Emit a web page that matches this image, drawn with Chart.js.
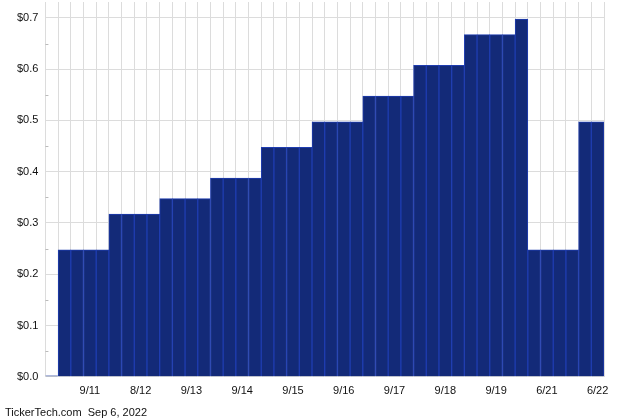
<!DOCTYPE html>
<html>
<head>
<meta charset="utf-8">
<script src="https://cdn.jsdelivr.net/npm/chart.js@4"></script>
<style>
  html, body { margin: 0; padding: 0; background: #fff; }
  #wrap { width: 640px; height: 420px; position: relative; }
</style>
</head>
<body>
<div id="wrap"><canvas id="divChart"></canvas></div>
<script>
// dividend per payment, oldest first
const dividends = [
  0.002,
  0.2475, 0.2475, 0.2475, 0.2475,
  0.3175, 0.3175, 0.3175, 0.3175,
  0.3475, 0.3475, 0.3475, 0.3475,
  0.3875, 0.3875, 0.3875, 0.3875,
  0.4475, 0.4475, 0.4475, 0.4475,
  0.4975, 0.4975, 0.4975, 0.4975,
  0.5475, 0.5475, 0.5475, 0.5475,
  0.6075, 0.6075, 0.6075, 0.6075,
  0.6675, 0.6675, 0.6675, 0.6675,
  0.6975,
  0.2475, 0.2475, 0.2475, 0.2475,
  0.4975, 0.4975,
];
const payments = dividends.map((_, i) => String(i + 1));
const dateLabels = ["9/11", "8/12", "9/13", "9/14", "9/15", "9/16", "9/17", "9/18", "9/19", "6/21", "6/22"];
const yTicks = [0, 0.1, 0.2, 0.3, 0.4, 0.5, 0.6, 0.7];
const footerText = "TickerTech.com  Sep 6, 2022";

const COLORS = {
  bar:    "#132a78",
  edge:   "#1f3db0",
  grid:   "#dcdcdc",
  text:   "#111111",
};
const FONT = "'Liberation Sans', Arial, sans-serif";

// grid columns behind the bars (one fewer than bars, as in the source image)
const GRID_COLS = dividends.length - 1;
const LABEL_FIRST = 3;
const LABEL_EVERY = 4;

const extrasPlugin = {
  id: "extras",
  afterDraw(chart) {
    const c = chart.ctx;
    const y = chart.scales.y;
    const left = chart.chartArea.left;
    // minor ticks halfway between y labels
    c.save();
    c.strokeStyle = "#bbbbbb";
    c.lineWidth = 1;
    for (let i = 0; i < yTicks.length - 1; i++) {
      const py = Math.round(y.getPixelForValue((yTicks[i] + yTicks[i + 1]) / 2)) + 0.5;
      c.beginPath();
      c.moveTo(left, py);
      c.lineTo(left + 3, py);
      c.stroke();
    }
    c.fillStyle = COLORS.text;
    c.font = "11px " + FONT;
    c.textBaseline = "middle";
    c.textAlign = "left";
    c.fillText(footerText, 5, 413);
    c.restore();
  },
};

new Chart(document.getElementById("divChart"), {
  type: "bar",
  data: {
    labels: payments,
    datasets: [{
      data: dividends,
      backgroundColor: COLORS.bar,
      borderColor: COLORS.edge,
      borderWidth: 1,
      borderSkipped: "bottom",
      categoryPercentage: 1.0,
      barPercentage: 1.0,
    }],
  },
  options: {
    responsive: true,
    maintainAspectRatio: false,
    animation: false,
    layout: { padding: { left: 17, right: 36, top: 2, bottom: 14 } },
    plugins: {
      legend: { display: false },
      tooltip: { enabled: false },
    },
    scales: {
      x: {
        display: false,
      },
      xGrid: {
        type: "linear",
        position: "bottom",
        min: 0,
        max: GRID_COLS,
        grid: { color: COLORS.grid, drawTicks: false },
        border: { color: COLORS.grid },
        ticks: {
          stepSize: 1,
          autoSkip: false,
          maxRotation: 0,
          padding: 8,
          color: COLORS.text,
          font: { family: FONT, size: 11 },
          callback: (v) => {
            const k = v - LABEL_FIRST;
            if (k < 0 || k % LABEL_EVERY !== 0) return "";
            return dateLabels[k / LABEL_EVERY] || "";
          },
        },
      },
      y: {
        min: 0,
        max: 0.731,
        afterBuildTicks: (scale) => {
          scale.ticks = yTicks.map((v) => ({ value: v }));
        },
        grid: { color: COLORS.grid, drawTicks: true, tickLength: 7, tickColor: "rgba(0,0,0,0)" },
        border: { color: COLORS.grid },
        ticks: {
          padding: 0,
          color: COLORS.text,
          font: { family: FONT, size: 11, lineHeight: 0.3 },
          callback: (v) => "$" + Number(v).toFixed(1),
        },
      },
    },
  },
  plugins: [extrasPlugin],
});
</script>
</body>
</html>
